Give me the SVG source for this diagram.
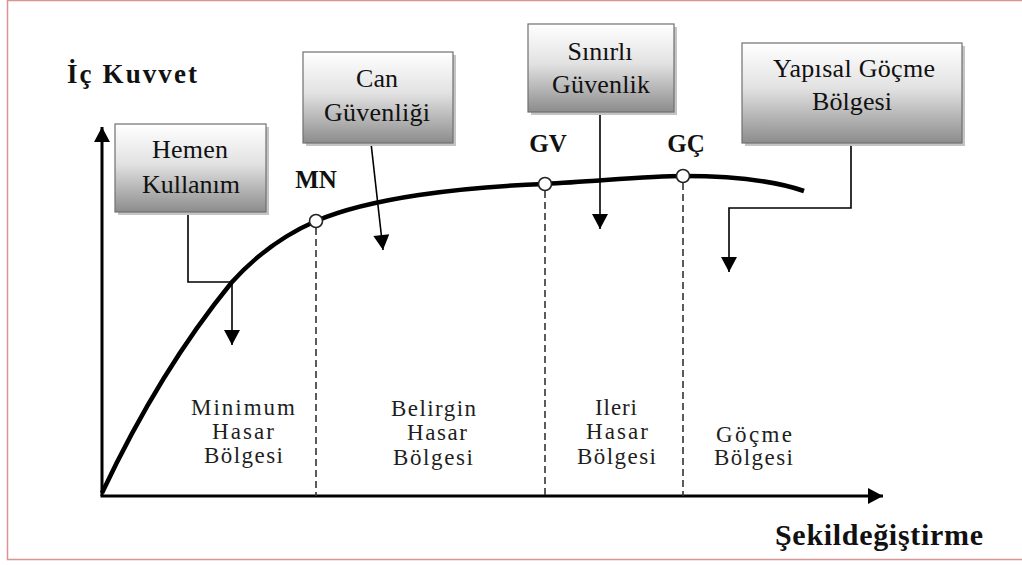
<svg xmlns="http://www.w3.org/2000/svg" width="1022" height="565" viewBox="0 0 1022 565">
<defs>
<linearGradient id="boxg" x1="0" y1="0" x2="0" y2="1">
<stop offset="0" stop-color="#ffffff"/>
<stop offset="0.45" stop-color="#e2e2e2"/>
<stop offset="1" stop-color="#8c8c8c"/>
</linearGradient>
<marker id="ah" markerUnits="userSpaceOnUse" markerWidth="16" markerHeight="16" viewBox="0 0 15 16" refX="15" refY="8" orient="auto">
<path d="M0,0 L15,8 L0,16 z" fill="#000"/>
</marker>
</defs>
<style>
text{font-family:'Liberation Serif','Times New Roman',serif}
.shadow{fill:#c4c4c4}
.box{fill:url(#boxg);stroke:#707070;stroke-width:1.2}
.bt{font-size:26px;fill:#111;text-anchor:middle}
.rt{font-size:23px;fill:#1e1e1e;text-anchor:middle}
.pt{font-size:25px;font-weight:bold;fill:#111;text-anchor:middle}
.ax{font-weight:bold;fill:#111}
.conn{fill:none;stroke:#000;stroke-width:1.6}
.dash{fill:none;stroke:#333;stroke-width:1.6;stroke-dasharray:7 4}
.axis{fill:none;stroke:#000;stroke-width:3}
.curve{fill:none;stroke:#000;stroke-width:4.5}
.pnt{fill:#fff;stroke:#222;stroke-width:1.6}
</style>
<rect x="0" y="0" width="1022" height="565" fill="#fff"/>
<rect x="7.5" y="0.5" width="1030" height="559" fill="none" stroke="#d99494" stroke-width="1.5"/>

<g id="axes">
<line class="axis" x1="102" y1="496" x2="102" y2="127" marker-end="url(#ah)"/>
<line class="axis" x1="100.5" y1="496" x2="883" y2="496" marker-end="url(#ah)"/>
<text class="ax" x="67" y="83" font-size="27" textLength="130" lengthAdjust="spacing">İç Kuvvet</text>
<text class="ax" x="775" y="545" font-size="30" textLength="208" lengthAdjust="spacing">Şekildeğiştirme</text>
</g>

<g id="dashes">
<line class="dash" x1="316" y1="228" x2="316" y2="496"/>
<line class="dash" x1="545" y1="191" x2="545" y2="496"/>
<line class="dash" x1="683" y1="183" x2="683" y2="496"/>
</g>

<g id="curve">
<path class="curve" d="M102,493 Q160,370 232,282 Q268,242 316,221 C370,198 460,187 545,184 C600,181 650,176 683,176 C730,176 775,181 804,191"/>
</g>

<g id="connectors">
<path class="conn" d="M188,212 L188,282 L232,282 L232,345" marker-end="url(#ah)"/>
<path class="conn" d="M371,143 L383,250" marker-end="url(#ah)"/>
<path class="conn" d="M600,112 L600,229" marker-end="url(#ah)"/>
<path class="conn" d="M851,143 L851,208 L729,208 L729,272" marker-end="url(#ah)"/>
</g>

<g id="point-MN">
<circle class="pnt" cx="316" cy="221" r="6.5"/>
<text class="pt" x="316" y="188">MN</text>
</g>
<g id="point-GV">
<circle class="pnt" cx="545" cy="184" r="6.5"/>
<text class="pt" x="548" y="152">GV</text>
</g>
<g id="point-GC">
<circle class="pnt" cx="683" cy="176" r="6.5"/>
<text class="pt" x="686" y="152">GÇ</text>
</g>

<g id="box-hemen">
<rect class="shadow" x="118" y="127" width="151" height="88"/>
<rect class="box" x="115" y="124" width="151" height="88"/>
<text class="bt" x="190" y="158" textLength="76">Hemen</text>
<text class="bt" x="191" y="193" textLength="98">Kullanım</text>
</g>
<g id="box-can">
<rect class="shadow" x="306" y="55" width="150" height="91"/>
<rect class="box" x="303" y="52" width="150" height="91"/>
<text class="bt" x="377" y="87" textLength="42">Can</text>
<text class="bt" x="377" y="121" textLength="106">Güvenliği</text>
</g>
<g id="box-sinirli">
<rect class="shadow" x="531" y="27" width="146" height="88"/>
<rect class="box" x="528" y="24" width="146" height="88"/>
<text class="bt" x="600" y="60" textLength="65">Sınırlı</text>
<text class="bt" x="601" y="93" textLength="98">Güvenlik</text>
</g>
<g id="box-yapisal">
<rect class="shadow" x="745" y="46" width="220" height="100"/>
<rect class="box" x="742" y="43" width="220" height="100"/>
<text class="bt" x="854" y="77" textLength="162">Yapısal Göçme</text>
<text class="bt" x="852" y="110" textLength="80">Bölgesi</text>
</g>

<g id="region-minimum">
<text class="rt" x="243" y="415" textLength="104">Minimum</text>
<text class="rt" x="243" y="439" textLength="62">Hasar</text>
<text class="rt" x="243.5" y="463" textLength="79">Bölgesi</text>
</g>
<g id="region-belirgin">
<text class="rt" x="433.5" y="416" textLength="85">Belirgin</text>
<text class="rt" x="437" y="440" textLength="60">Hasar</text>
<text class="rt" x="433" y="465" textLength="80">Bölgesi</text>
</g>
<g id="region-ileri">
<text class="rt" x="616" y="415" textLength="42">Ileri</text>
<text class="rt" x="617" y="439" textLength="62">Hasar</text>
<text class="rt" x="616.5" y="464" textLength="79">Bölgesi</text>
</g>
<g id="region-gocme">
<text class="rt" x="754" y="442" textLength="76">Göçme</text>
<text class="rt" x="753.5" y="465" textLength="79">Bölgesi</text>
</g>
</svg>
